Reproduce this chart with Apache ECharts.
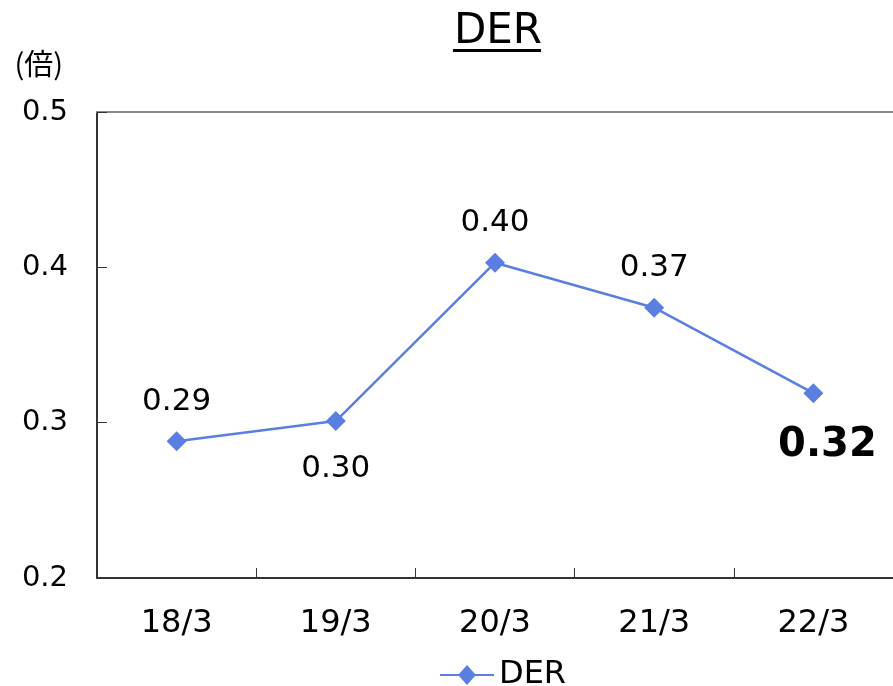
<!DOCTYPE html>
<html>
<head>
<meta charset="utf-8">
<script src="https://cdn.jsdelivr.net/npm/echarts@6/dist/echarts.min.js"></script>
<style>html,body{margin:0;padding:0;background:#fff}#c{width:893px;height:686px}</style>
</head>
<body>
<div id="c"></div>
<script>
const categories = ['18/3', '19/3', '20/3', '21/3', '22/3'];
const derValues = [0.288, 0.301, 0.403, 0.374, 0.319];
const derLabels = ['0.29', '0.30', '0.40', '0.37', '0.32'];
const labelPlacement = ['top', 'bottom', 'top', 'top', 'bottom'];
const yTicks = [0.2, 0.3, 0.4, 0.5];

const FONT = '"DejaVu Sans", Verdana, sans-serif';
const LINE = '#5a7fe0';

const chart = echarts.init(document.getElementById('c'), null, {renderer: 'canvas'});
const data = derValues.map((v, i) => {
  const last = i === derValues.length - 1;
  return {
    value: v,
    label: {
      show: true,
      position: labelPlacement[i],
      distance: last ? 22 : (labelPlacement[i] === 'bottom' ? 22 : 14),
      offset: last ? [14, 0] : [0, 0],
      formatter: () => derLabels[i],
      fontSize: last ? 40 : 31,
      fontWeight: last ? 'bold' : 'normal',
      color: '#000',
      fontFamily: FONT
    }
  };
});

chart.setOption({
  animation: false,
  title: {
    text: 'DER',
    left: 493, top: 6, textAlign: 'center',
    textStyle: {fontFamily: FONT, fontSize: 42, fontWeight: 'normal', color: '#000'}
  },
  graphic: [{
    type: 'rect', shape: {x: 453, y: 49, width: 88, height: 3}, style: {fill: '#000'}
  }],
  grid: {left: 97, right: -6, top: 112, bottom: 108, containLabel: false},
  legend: {
    top: 654, left: 435,
    data: [{name: 'DER', icon: 'path://M0,9 L19,9 L27,0 L35,9 L54,9 L54,11 L35,11 L27,20 L19,11 L0,11 Z'}],
    itemWidth: 54, itemHeight: 20, itemGap: 4,
    textStyle: {fontFamily: FONT, fontSize: 32, color: '#000'}
  },
  xAxis: [{
    type: 'category', data: categories, boundaryGap: true,
    axisLine: {lineStyle: {color: '#333', width: 2}},
    axisTick: {show: true, inside: true, length: 10, alignWithLabel: false, interval: 0, lineStyle: {color: '#333', width: 1}},
    axisLabel: {fontFamily: FONT, fontSize: 32, color: '#000', margin: 30}
  }, {
    type: 'category', data: categories, position: 'top',
    axisLine: {lineStyle: {color: '#888', width: 2}},
    axisTick: {show: false}, axisLabel: {show: false}
  }],
  yAxis: {
    type: 'value', min: 0.2, max: 0.5, interval: 0.1,
    name: '(倍)', nameLocation: 'end', nameGap: 34,
    nameTextStyle: {fontFamily: '"Noto Sans CJK JP", ' + FONT, fontSize: 29, color: '#000', align: 'right', padding: [0, 34, 0, 0]},
    axisLine: {show: true, lineStyle: {color: '#333', width: 2}},
    axisTick: {show: true, inside: true, length: 10, lineStyle: {color: '#333', width: 1}},
    splitLine: {show: false},
    axisLabel: {fontFamily: FONT, fontSize: 29, color: '#000', margin: 29,
      formatter: v => { const t = yTicks.find(y => Math.abs(y - v) < 1e-9); return t !== undefined ? String(t) : ''; }}
  },
  series: [{
    name: 'DER', type: 'line', data: data,
    symbol: 'diamond', symbolSize: 20,
    lineStyle: {color: LINE, width: 2.5},
    itemStyle: {color: LINE}
  }]
});
</script>
</body>
</html>
